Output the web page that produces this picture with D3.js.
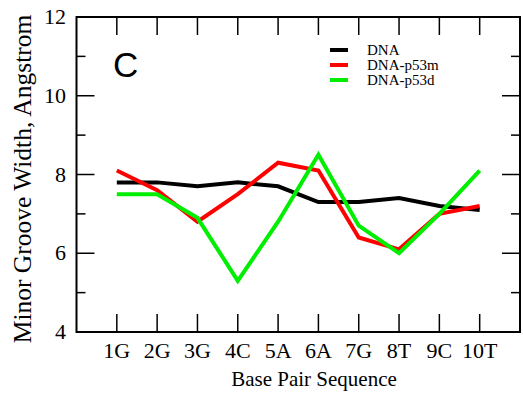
<!DOCTYPE html>
<html>
<head>
<meta charset="utf-8">
<script src="https://cdn.jsdelivr.net/npm/d3@7"></script>
<style>
  body { margin: 0; background: #fff; }
</style>
</head>
<body>
<div class="chart"></div>
<script>
const categories = ['1G','2G','3G','4C','5A','6A','7G','8T','9C','10T'];
const dna      = [7.8, 7.8, 7.7, 7.8, 7.7, 7.3, 7.3, 7.4, 7.2, 7.1];
const dnaP53m  = [8.1, 7.6, 6.8, 7.5, 8.3, 8.1, 6.4, 6.1, 7.0, 7.2];
const dnaP53d  = [7.5, 7.5, 6.9, 5.3, 6.8, 8.5, 6.7, 6.0, 7.0, 8.1];
const yTicks = [4, 6, 8, 10, 12];
const yMinor = [5, 7, 9, 11];

const series = [
  { name: 'DNA', values: dna, color: '#000000' },
  { name: 'DNA-p53m', values: dnaP53m, color: '#ff0000' },
  { name: 'DNA-p53d', values: dnaP53d, color: '#00ee00' }
];

const serif = '"Liberation Serif", "Times New Roman", serif';
const W = 523, H = 397;
const pL = 76.5, pR = 520, pT = 17, pB = 332;

const svg = d3.select('div.chart').append('svg')
    .attr('width', W)
    .attr('height', H)
    .attr('font-family', serif);

const x = d3.scaleLinear().domain([0, categories.length + 1]).range([pL, pR]);
const y = d3.scaleLinear().domain([4, 12]).range([pB, pT]);

// ticks pointing inward on all four sides
const tk = svg.append('g').attr('stroke', '#000').attr('stroke-width', 1.5);
categories.forEach((c, i) => {
  const xx = x(i + 1);
  tk.append('line').attr('x1', xx).attr('x2', xx).attr('y1', pB).attr('y2', pB - 18);
  tk.append('line').attr('x1', xx).attr('x2', xx).attr('y1', pT).attr('y2', pT + 18);
});
yTicks.forEach(v => {
  tk.append('line').attr('x1', pL).attr('x2', pL + 18).attr('y1', y(v)).attr('y2', y(v));
  tk.append('line').attr('x1', pR).attr('x2', pR - 18).attr('y1', y(v)).attr('y2', y(v));
});
yMinor.forEach(v => {
  tk.append('line').attr('x1', pL).attr('x2', pL + 9).attr('y1', y(v)).attr('y2', y(v));
  tk.append('line').attr('x1', pR).attr('x2', pR - 9).attr('y1', y(v)).attr('y2', y(v));
});

// tick labels
svg.append('g').selectAll('text')
  .data(yTicks).enter().append('text')
    .attr('x', 66)
    .attr('y', d => y(d) + 7)
    .attr('text-anchor', 'end')
    .attr('font-size', 22)
    .text(d => d);

svg.append('g').selectAll('text')
  .data(categories).enter().append('text')
    .attr('x', (d, i) => x(i + 1))
    .attr('y', 358)
    .attr('text-anchor', 'middle')
    .attr('font-size', 22)
    .text(d => d);

// axis titles
svg.append('text')
    .attr('x', 314)
    .attr('y', 386)
    .attr('text-anchor', 'middle')
    .attr('font-size', 21)
    .text('Base Pair Sequence');

svg.append('text')
    .attr('transform', `translate(31,179) rotate(-90)`)
    .attr('text-anchor', 'middle')
    .attr('font-size', 25.5)
    .text('Minor Groove Width, Angstrom');

// data lines
const line = d3.line()
    .x((d, i) => x(i + 1))
    .y(d => y(d));

series.forEach(s => {
  svg.append('path')
      .datum(s.values)
      .attr('d', line)
      .attr('fill', 'none')
      .attr('stroke', s.color)
      .attr('stroke-width', 4)
      .attr('stroke-linejoin', 'miter');
});

// frame
svg.append('rect')
    .attr('x', pL).attr('y', pT)
    .attr('width', pR - pL).attr('height', pB - pT)
    .attr('fill', 'none')
    .attr('stroke', '#000')
    .attr('stroke-width', 2);

// panel letter
svg.append('text')
    .attr('x', 113)
    .attr('y', 77)
    .attr('font-family', '"Liberation Sans", Arial, sans-serif')
    .attr('font-size', 35)
    .text('C');

// legend
const lg = svg.append('g');
series.forEach((s, i) => {
  const yy = 50 + i * 15;
  lg.append('line')
      .attr('x1', 330).attr('x2', 348)
      .attr('y1', yy).attr('y2', yy)
      .attr('stroke', s.color)
      .attr('stroke-width', 4);
  lg.append('text')
      .attr('x', 367)
      .attr('y', yy + 5)
      .attr('font-size', 15)
      .text(s.name);
});
</script>
</body>
</html>
